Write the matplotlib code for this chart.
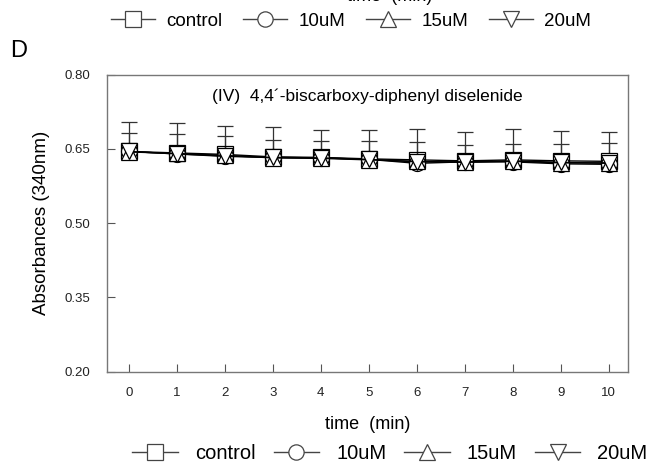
import matplotlib.pyplot as plt
from matplotlib.lines import Line2D

plt.rcParams['font.family'] = ['Liberation Sans', 'DejaVu Sans']

# --- data
time = [0, 1, 2, 3, 4, 5, 6, 7, 8, 9, 10]
control = [0.645, 0.642, 0.639, 0.634, 0.633, 0.630, 0.628, 0.626, 0.628, 0.626, 0.625]
uM10 = [0.645, 0.640, 0.636, 0.633, 0.632, 0.629, 0.621, 0.624, 0.624, 0.620, 0.619]
uM15 = [0.644, 0.641, 0.637, 0.632, 0.631, 0.628, 0.625, 0.623, 0.625, 0.622, 0.622]
uM20 = [0.645, 0.640, 0.635, 0.633, 0.632, 0.629, 0.624, 0.624, 0.626, 0.623, 0.621]
err_control = [0.060, 0.060, 0.058, 0.060, 0.056, 0.058, 0.062, 0.058, 0.062, 0.060, 0.060]
err_15 = [0.038, 0.040, 0.040, 0.037, 0.036, 0.038, 0.040, 0.036, 0.036, 0.038, 0.040]

labels = ["control", "10uM", "15uM", "20uM"]
markers = ["s", "o", "^", "v"]

fig = plt.figure(figsize=(6.5, 4.67), dpi=100)
ax = fig.add_axes([0.165, 0.204, 0.801, 0.636])

series = [control, uM10, uM15, uM20]
for vals, m in zip(series, markers):
    ax.plot(time, vals, color="black", lw=1.0, marker=m, markersize=11.5,
            markerfacecolor="white", markeredgecolor="black", markeredgewidth=0.9,
            zorder=3)

ax.errorbar(time, control, yerr=[[0] * len(time), err_control], fmt="none",
            ecolor="#333333", elinewidth=0.9, capsize=5.5, capthick=0.9, zorder=2)
ax.errorbar(time, uM15, yerr=[[0] * len(time), err_15], fmt="none",
            ecolor="#333333", elinewidth=0.9, capsize=5.5, capthick=0.9, zorder=2)

ax.set_xlim(-0.45, 10.4)
ax.set_ylim(0.20, 0.80)
ax.set_xticks(time)
ax.set_yticks([0.20, 0.35, 0.50, 0.65, 0.80])
ax.set_yticklabels(["0.20", "0.35", "0.50", "0.65", "0.80"])
ax.tick_params(direction="in", length=6, width=0.8, color="#555555",
               labelsize=9.5, labelcolor="#222222")
ax.tick_params(axis="y", pad=12)
ax.tick_params(axis="x", pad=11)
for s in ax.spines.values():
    s.set_color("#777777")
    s.set_linewidth(1.0)

ax.set_xlabel("time  (min)", fontsize=13, labelpad=12)
ax.set_ylabel("Absorbances (340nm)", fontsize=13.5, labelpad=11)

ax.text(0.5, 0.955, "(IV)  4,4\u00b4-biscarboxy-diphenyl diselenide",
        transform=ax.transAxes, ha="center", va="top", fontsize=12.5)

fig.text(0.016, 0.89, "D", fontsize=17, ha="left", va="center")

handles = [Line2D([0], [0], color="#444444", lw=1.0, marker=m, markersize=11,
                  markerfacecolor="white", markeredgecolor="#444444",
                  markeredgewidth=0.9) for m in markers]

fig.legend(handles, labels, loc="center", bbox_to_anchor=(0.6, 0.028),
           ncol=4, frameon=False, fontsize=14.5, handlelength=2.25,
           columnspacing=0.9, handletextpad=0.85)
fig.legend(handles, labels, loc="center", bbox_to_anchor=(0.54, 0.955),
           ncol=4, frameon=False, fontsize=13.5, handlelength=2.35,
           columnspacing=1.1, handletextpad=0.6)
fig.text(0.6, 1.008, "time  (min)", ha="center", va="center", fontsize=13)

fig.savefig("out.png", dpi=100, facecolor="white")
